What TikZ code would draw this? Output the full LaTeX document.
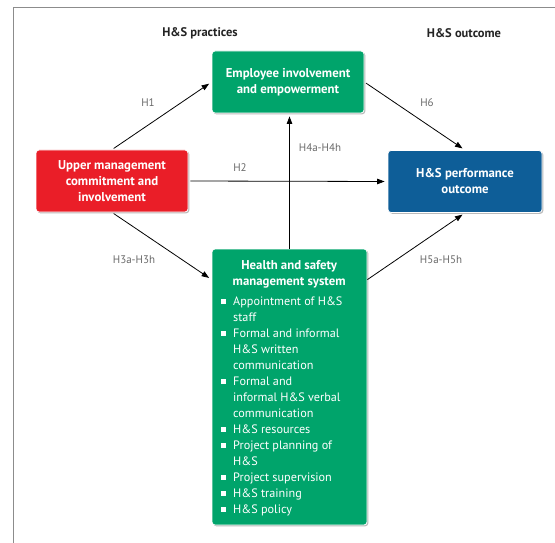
\documentclass[tikz,border=0pt]{standalone}
\usepackage{fontspec}
\setmainfont{PT Sans}
\usetikzlibrary{arrows.meta,shadows}
\definecolor{hsgreen}{RGB}{0,164,107}
\definecolor{hsred}{RGB}{234,30,40}
\definecolor{hsblue}{RGB}{14,94,152}
\definecolor{labgray}{RGB}{105,105,105}
\definecolor{headgray}{RGB}{35,35,35}
\definecolor{framegray}{RGB}{140,140,140}
\newcommand{\hsbul}{\rule[2pt]{4.8pt}{4.8pt}}
\begin{document}
\begin{tikzpicture}[x=1pt,y=-1pt,
  box/.style={rounded corners=3pt, draw=white, line width=0.8pt, text=white,
    font=\fontsize{12.8}{16}\selectfont\bfseries, align=center, inner sep=0pt,
    drop shadow={shadow xshift=1.3pt, shadow yshift=-1.3pt, opacity=0.45, fill=black!60}},
  conn/.style={line width=0.8pt, -{Triangle[length=7.5pt,width=5.5pt]}, shorten >=3pt, shorten <=2pt},
  hlab/.style={text=labgray, font=\fontsize{11}{12}\selectfont},
  head/.style={text=headgray, font=\fontsize{12.5}{14}\selectfont\bfseries}]
\useasboundingbox (0,0) rectangle (555,543);
\draw[framegray, line width=0.8pt] (13.5,543) -- (13.5,7) -- (555,7);

\node[head] (hpract) at (200,33) {H\&S practices};
\node[head] (hout) at (464,33) {H\&S outcome};

\node[box, fill=hsgreen, minimum width=152pt, minimum height=62pt] (emp) at (288,82) {Employee involvement\\and empowerment};
\node[box, fill=hsred, minimum width=152pt, minimum height=62pt] (upm) at (112,181) {Upper management\\commitment and\\involvement};
\node[box, fill=hsblue, minimum width=154pt, minimum height=62pt] (perf) at (465,181.5) {H\&S performance\\outcome};
\node[box, fill=hsgreen, minimum width=155pt, minimum height=276pt] (hsms) at (289.5,387) {};

\node[anchor=north west, inner sep=0pt, text=white, font=\fontsize{12.2}{16}\selectfont] (hstext) at (221,258.5) {%
\begin{tabular}{@{}p{12pt}@{}p{124pt}@{}}
\multicolumn{2}{@{}c@{}}{\fontsize{12.8}{16}\selectfont\bfseries Health and safety}\\
\multicolumn{2}{@{}c@{}}{\fontsize{12.8}{16}\selectfont\bfseries management system}\\[4pt]
\hsbul & Appointment of H\&S\\
 & staff\\
\hsbul & Formal and informal\\
 & H\&S written\\
 & communication\\
\hsbul & Formal and\\
 & informal H\&S verbal\\
 & communication\\
\hsbul & H\&S resources\\
\hsbul & Project planning of\\
 & H\&S\\
\hsbul & Project supervision\\
\hsbul & H\&S training\\
\hsbul & H\&S policy
\end{tabular}};

\coordinate (h3end) at ([yshift=-31pt]hsms.north west);
\coordinate (h5start) at ([yshift=-31pt]hsms.north east);

\draw[conn] (upm.north) -- (emp.west);
\draw[conn] (emp.east) -- (perf.north);
\draw[conn] (upm.east) -- (perf.west);
\draw[conn] (upm.south) -- (h3end);
\draw[conn, shorten <=0pt] (h5start) -- (perf.south);
\draw[conn, shorten <=0pt] (hsms.north) -- (hsms.north |- emp.south);

\node[hlab] (lh1) at (148,103) {H1};
\node[hlab] (lh6) at (427,103) {H6};
\node[hlab] (lh2) at (240,168) {H2};
\node[hlab] (lh4) at (320,148) {H4a-H4h};
\node[hlab] (lh3) at (134,260) {H3a-H3h};
\node[hlab] (lh5) at (441,260) {H5a-H5h};
\end{tikzpicture}
\end{document}
